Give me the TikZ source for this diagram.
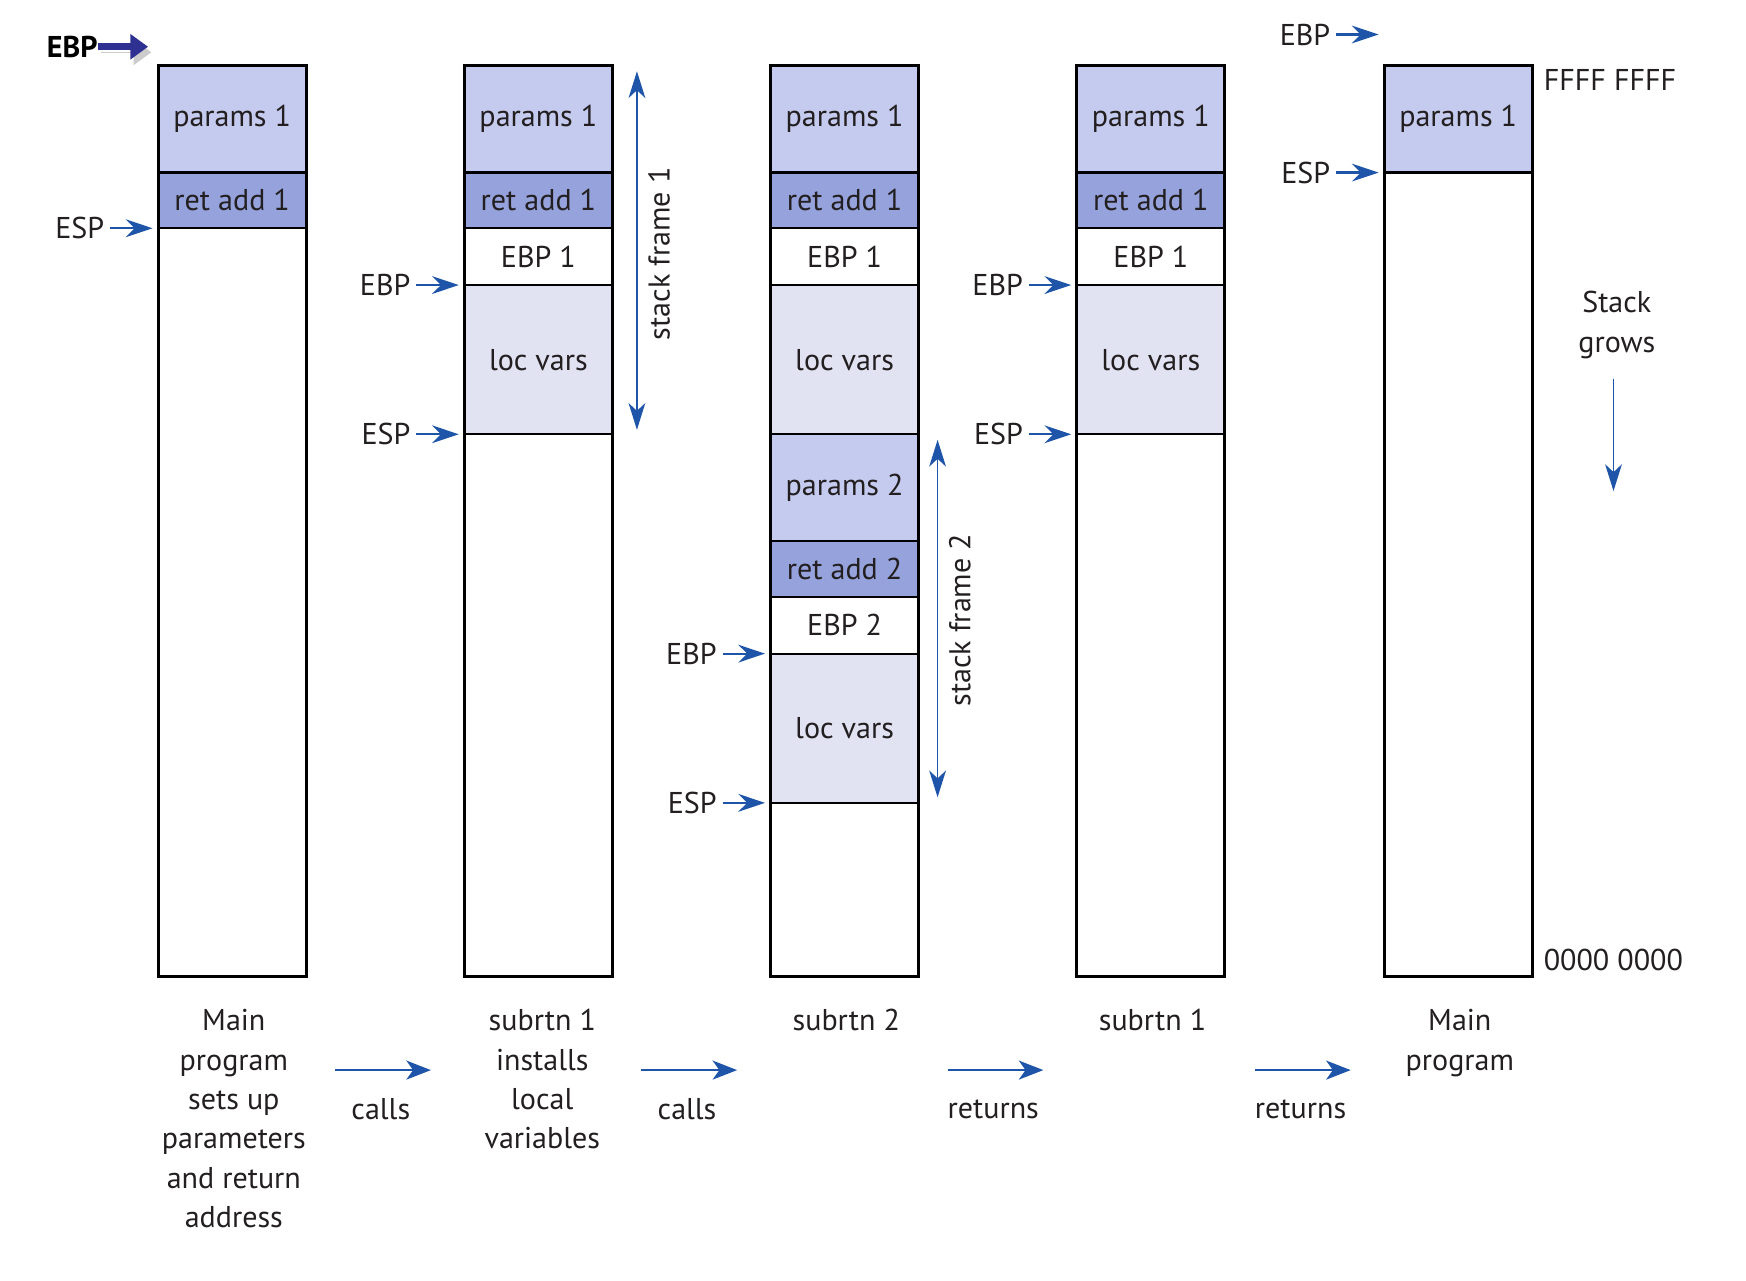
\documentclass[tikz,border=0pt]{standalone}
\usepackage{fontspec}
\setmainfont{PT Sans}
\usepackage{tikz}
\usetikzlibrary{arrows.meta, positioning}

\definecolor{paramsfill}{RGB}{197,203,238}
\definecolor{retfill}{RGB}{149,162,220}
\definecolor{locfill}{RGB}{225,227,242}
\definecolor{ptrblue}{RGB}{31,85,168}
\definecolor{ebpnavy}{RGB}{46,49,146}
\definecolor{inktext}{RGB}{35,31,32}

\begin{document}
\begin{tikzpicture}[x=0.5pt,y=-0.5pt,
  font=\fontsize{13.5}{17.7}\selectfont, text=inktext,
  slot/.style={draw=black, line width=1pt, minimum width=66.5pt, inner sep=0pt, outer sep=0pt, anchor=north},
  pslot/.style={slot, fill=paramsfill, minimum height=48pt},
  rslot/.style={slot, fill=retfill, minimum height=25pt},
  eslot/.style={slot, fill=white, minimum height=25.5pt},
  lslot/.style={slot, fill=locfill, minimum height=67pt},
  stackbox/.style={draw=black, line width=1.4pt, minimum width=66.5pt, minimum height=409pt, inner sep=0pt, outer sep=0pt, anchor=north},
  reglabel/.style={inner sep=2.5pt},
  regarrow/.style={draw=ptrblue, line width=1pt, -{Stealth[length=12pt,width=8pt,inset=4pt]}, shorten >=2.5pt},
  framearrow/.style={draw=ptrblue, line width=0.8pt, {Stealth[length=12pt,width=7.5pt,inset=3.5pt]}-{Stealth[length=12pt,width=7.5pt,inset=3.5pt]}},
  flowarrow/.style={draw=ptrblue, line width=1.2pt, -{Stealth[length=11pt,width=8.5pt,inset=3pt]}},
  caption/.style={align=center, anchor=north, inner sep=0pt}
]

\useasboundingbox (0,0) rectangle (1568,1150);

% column 1 : Main program
\node[pslot] (c1p) at (208.5,59) {params 1};
\node[rslot, below=0pt of c1p] (c1r) {ret add 1};
\node[stackbox] (col1) at (208.5,59) {};

% column 2 : subrtn 1 called
\node[pslot] (c2p) at (483.5,59) {params 1};
\node[rslot, below=0pt of c2p] (c2r) {ret add 1};
\node[eslot, below=0pt of c2r] (c2e) {EBP 1};
\node[lslot, below=0pt of c2e] (c2l) {loc vars};
\node[stackbox] (col2) at (483.5,59) {};

% column 3 : subrtn 2 called
\node[pslot] (c3p) at (758.5,59) {params 1};
\node[rslot, below=0pt of c3p] (c3r) {ret add 1};
\node[eslot, below=0pt of c3r] (c3e) {EBP 1};
\node[lslot, below=0pt of c3e] (c3l) {loc vars};
\node[pslot, below=0pt of c3l] (c3p2) {params 2};
\node[rslot, below=0pt of c3p2] (c3r2) {ret add 2};
\node[eslot, below=0pt of c3r2] (c3e2) {EBP 2};
\node[lslot, below=0pt of c3e2] (c3l2) {loc vars};
\node[stackbox] (col3) at (758.5,59) {};

% column 4 : back in subrtn 1
\node[pslot] (c4p) at (1033.5,59) {params 1};
\node[rslot, below=0pt of c4p] (c4r) {ret add 1};
\node[eslot, below=0pt of c4r] (c4e) {EBP 1};
\node[lslot, below=0pt of c4e] (c4l) {loc vars};
\node[stackbox] (col4) at (1033.5,59) {};

% column 5 : back in Main program
\node[pslot] (c5p) at (1309.5,59) {params 1};
\node[stackbox] (col5) at (1309.5,59) {};

% EBP / ESP pointers
\coordinate (ebp1tip) at (133,42);
\node[inner sep=0pt, font=\fontsize{13.5}{16}\selectfont\bfseries, text=black, left=22.5pt of ebp1tip] (ebp1) {EBP};
\draw[draw=ebpnavy, line width=3pt, -{Triangle[length=8pt,width=11pt]},
  preaction={draw=black!20, transform canvas={shift={(1.5pt,-2.5pt)}}}] (ebp1) -- (ebp1tip);
\node[reglabel, left=21.5pt of c1r.south west] (esp1) {ESP};
\draw[regarrow] (esp1) -- (c1r.south west);

\node[reglabel, left=21.5pt of c2e.south west] (ebp2) {EBP};
\draw[regarrow] (ebp2) -- (c2e.south west);
\node[reglabel, left=21.5pt of c2l.south west] (esp2) {ESP};
\draw[regarrow] (esp2) -- (c2l.south west);

\node[reglabel, left=21.5pt of c3e2.south west] (ebp3) {EBP};
\draw[regarrow] (ebp3) -- (c3e2.south west);
\node[reglabel, left=21.5pt of c3l2.south west] (esp3) {ESP};
\draw[regarrow] (esp3) -- (c3l2.south west);

\node[reglabel, left=21.5pt of c4e.south west] (ebp4) {EBP};
\draw[regarrow] (ebp4) -- (c4e.south west);
\node[reglabel, left=21.5pt of c4l.south west] (esp4) {ESP};
\draw[regarrow] (esp4) -- (c4l.south west);

\coordinate (ebp5tip) at (1243,31);
\node[reglabel, left=21.5pt of ebp5tip] (ebp5) {EBP};
\draw[regarrow] (ebp5) -- (ebp5tip);
\node[reglabel, left=21.5pt of c5p.south west] (esp5) {ESP};
\draw[regarrow] (esp5) -- (c5p.south west);

% stack frames
\coordinate (sf1top) at (572,64);
\coordinate (sf1bot) at (572,386);
\draw[framearrow] (sf1top) -- (sf1bot);
\node[rotate=90] (sf1lab) at (592,228) {stack frame 1};
\coordinate (sf2top) at (842,395);
\coordinate (sf2bot) at (842,716);
\draw[framearrow] (sf2top) -- (sf2bot);
\node[rotate=90] (sf2lab) at (862,557) {stack frame 2};

% addresses
\node[anchor=west, inner sep=0pt] (hiaddr) at (1386,72) {FFFF FFFF};
\node[anchor=west, inner sep=0pt] (loaddr) at (1386,862) {0000 0000};
\node[align=center, inner sep=0pt] (grows) at (1452,292) {Stack\\grows};
\coordinate (growtop) at (1449,340);
\coordinate (growbot) at (1449,441);
\draw[draw=ptrblue, line width=0.8pt, -{Stealth[length=12pt,width=7.5pt,inset=3.5pt]}] (growtop) -- (growbot);

% Text Node
\node[caption] (cap1) at (210,906) {Main\\program\\sets up\\parameters\\and return\\address};
% Text Node
\node[caption] (cap2) at (487,906) {subrtn 1\\installs\\local\\variables};
% Text Node
\node[caption] (cap3) at (760,906) {subrtn 2};
% Text Node
\node[caption] (cap4) at (1035,906) {subrtn 1};
% Text Node
\node[caption] (cap5) at (1311,906) {Main\\program};

% calls / returns
\coordinate (fa1) at (301,961);
\coordinate (fb1) at (387,961);
\draw[flowarrow] (fa1) -- (fb1);
\node (calls1) at (342,996) {calls};
\coordinate (fa2) at (576,961);
\coordinate (fb2) at (662,961);
\draw[flowarrow] (fa2) -- (fb2);
\node (calls2) at (617,996) {calls};
\coordinate (fa3) at (851,961);
\coordinate (fb3) at (937,961);
\draw[flowarrow] (fa3) -- (fb3);
\node (returns1) at (892,996) {returns};
\coordinate (fa4) at (1127,961);
\coordinate (fb4) at (1213,961);
\draw[flowarrow] (fa4) -- (fb4);
\node (returns2) at (1168,996) {returns};

\end{tikzpicture}
\end{document}
